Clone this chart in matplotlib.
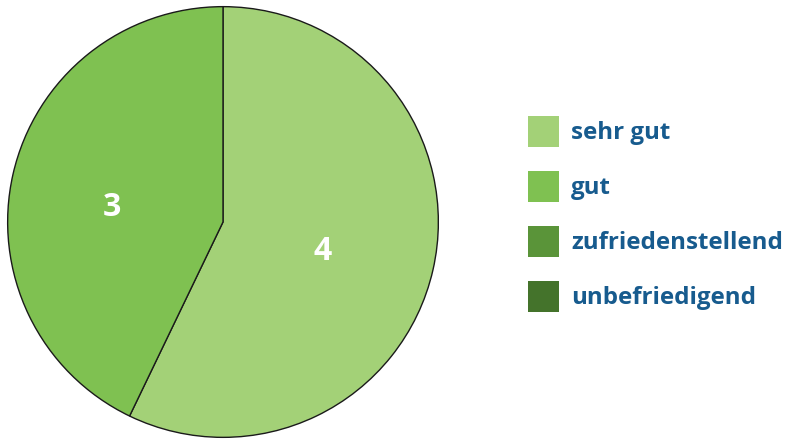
import matplotlib
matplotlib.use('Agg')
import matplotlib.pyplot as plt
from matplotlib.patches import Rectangle

# Data
categories = ['sehr gut', 'gut', 'zufriedenstellend', 'unbefriedigend']
values = [4, 3, 0, 0]
colors = ['#a3d177', '#7fc151', '#5a9439', '#44732b']
text_color = '#175b8e'

W, H = 789, 441
fig = plt.figure(figsize=(W / 100, H / 100), dpi=100)

# pie area in pixels: center (223, 222), radius 216
cx, cy, r = 223, 222, 216
ax = fig.add_axes([(cx - r) / W, (H - cy - r) / H, 2 * r / W, 2 * r / H])
shown = [(v, c) for v, c in zip(values, colors) if v > 0]
wedges, texts = ax.pie([v for v, _ in shown], colors=[c for _, c in shown],
                       labels=[str(v) for v, _ in shown], labeldistance=0.49,
                       startangle=90, counterclock=False, radius=1,
                       wedgeprops=dict(edgecolor='#1a1a1a', linewidth=1.0))
for t in texts:
    t.set_color('white')
    t.set_fontsize(23)
    t.set_fontweight('bold')
    t.set_ha('center')
    t.set_va('center')
    t.set_fontfamily('Open Sans')
# nudge the labels a little, like the original
x4, y4 = texts[0].get_position()
texts[0].set_position((x4 * 0.97, y4 * 1.25))
x3, y3 = texts[1].get_position()
texts[1].set_position((x3 * 1.08, y3 * 0.6))
ax.set_xlim(-1.003, 1.003)
ax.set_ylim(-1.003, 1.003)
ax.set_aspect('equal')

# legend drawn by hand
lx, lw, lh = 528, 31, 31
ys = [131, 186, 241, 296]
for cat, col, y in zip(categories, colors, ys):
    fig.patches.append(Rectangle((lx / W, (H - y - lh / 2) / H), lw / W, lh / H,
                                 transform=fig.transFigure, facecolor=col,
                                 edgecolor='none'))
    fig.text(571 / W, (H - y - 2) / H, cat, color=text_color, fontsize=17.4,
             fontweight='bold', fontfamily='Open Sans', ha='left', va='center')

fig.savefig('out.png', dpi=100)
